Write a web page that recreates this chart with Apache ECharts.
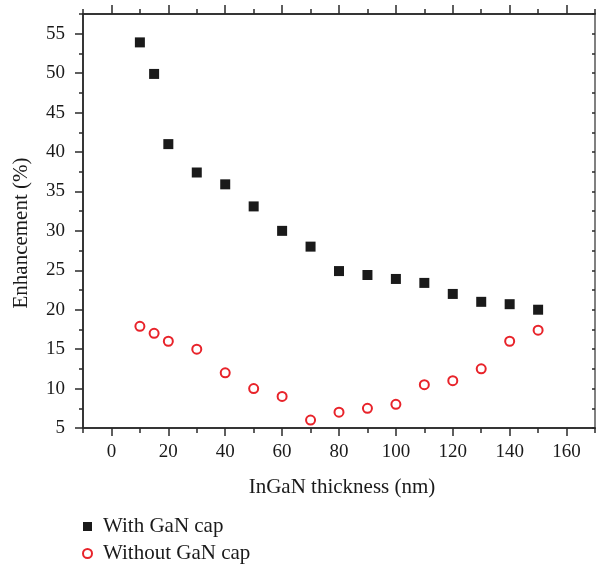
<!DOCTYPE html>
<html><head><meta charset="utf-8">
<script src="https://cdn.jsdelivr.net/npm/echarts@6/dist/echarts.min.js"></script>
<style>html,body{margin:0;padding:0;background:#fff}#c{width:596px;height:565px}</style>
</head><body><div id="c"></div>
<script>
const thickness = [10, 15, 20, 30, 40, 50, 60, 70, 80, 90, 100, 110, 120, 130, 140, 150];
const withCap = [53.9, 49.9, 41.0, 37.4, 35.9, 33.1, 30.0, 28.0, 24.9, 24.4, 23.9, 23.4, 22.0, 21.0, 20.7, 20.0];
const withoutCap = [17.9, 17.0, 16.0, 15.0, 12.0, 10.0, 9.0, 6.0, 7.0, 7.5, 8.0, 10.5, 11.0, 12.5, 16.0, 17.4];
const xMajor = [0, 20, 40, 60, 80, 100, 120, 140, 160];
const xMinor = [-10, 10, 30, 50, 70, 90, 110, 130, 150, 170];
const yMajor = [5, 10, 15, 20, 25, 30, 35, 40, 45, 50, 55];
const yMinor = [7.5, 12.5, 17.5, 22.5, 27.5, 32.5, 37.5, 42.5, 47.5, 52.5, 57.5];
const yAll = yMajor.concat(yMinor);

const FONT = 'Liberation Serif';
const AX = '#2a2a2a';
const RED = '#e8232a';
const chart = echarts.init(document.getElementById('c'), null, {renderer: 'canvas'});
const baseX = (pos, ticks, len, opts) => Object.assign({
  type: 'value', min: -10, max: 170, interval: 10, position: pos,
  gridIndex: 0, splitLine: {show: false},
  axisLine: {show: true, onZero: false, lineStyle: {color: AX, width: 1.5}},
  axisTick: {show: true, customValues: ticks, length: len, inside: false, lineStyle: {color: AX, width: 1.5}},
  axisLabel: {show: false}
}, opts || {});
const baseY = (pos, ticks, len, opts) => Object.assign({
  type: 'value', min: 5, max: 57.5, interval: 5, position: pos,
  gridIndex: 0, splitLine: {show: false},
  axisLine: {show: true, onZero: false, lineStyle: {color: AX, width: 1.5}},
  axisTick: {show: true, customValues: ticks, length: len, inside: false, lineStyle: {color: AX, width: 1.5}},
  axisLabel: {show: false}
}, opts || {});

const data1 = thickness.map((t, i) => [t, withCap[i]]);
const data2 = thickness.map((t, i) => [t, withoutCap[i]]);

chart.setOption({
  animation: false,
  textStyle: {fontFamily: FONT},
  grid: {left: 83, top: 14, right: 1, bottom: 137, containLabel: false},
  xAxis: [
    baseX('bottom', xMajor, 8, {
      name: 'InGaN thickness (nm)', nameLocation: 'middle', nameGap: 49,
      nameTextStyle: {fontFamily: FONT, fontSize: 21, color: '#1a1a1a', padding: [0, 0, 0, 6]},
      axisLabel: {show: true, customValues: xMajor, margin: 15, fontFamily: FONT, fontSize: 19, color: '#1a1a1a'}
    }),
    baseX('bottom', xMinor, 5),
    baseX('top', xMajor, 9),
    baseX('top', xMinor, 5)
  ],
  yAxis: [
    baseY('left', yMajor, 8, {
      name: 'Enhancement (%)', nameLocation: 'middle', nameGap: 51,
      nameTextStyle: {fontFamily: FONT, fontSize: 21, color: '#1a1a1a', padding: [0, 24, 0, 0]},
      axisLabel: {show: true, customValues: yMajor, margin: 18, fontFamily: FONT, fontSize: 19, color: '#1a1a1a'}
    }),
    baseY('left', yMinor, 4),
    baseY('right', yAll, 3, {
      axisLine: {show: true, onZero: false, lineStyle: {color: '#808080', width: 2}},
      axisTick: {show: true, customValues: yAll, length: 3, inside: true, lineStyle: {color: AX, width: 1.5}}
    })
  ],
  legend: {
    orient: 'vertical', left: 82, top: 516, padding: 0, itemGap: 6, itemWidth: 21, itemHeight: 9,
    textStyle: {fontFamily: FONT, fontSize: 21, color: '#1a1a1a'},
    data: [
      {name: 'With GaN cap', icon: 'path://M0,0h10v10h-10z', itemStyle: {color: '#1a1a1a'}},
      {name: 'Without GaN cap', icon: 'emptyCircle', itemStyle: {color: RED, borderColor: RED, borderWidth: 2}}
    ]
  },
  series: [
    {name: 'With GaN cap', type: 'scatter', xAxisIndex: 0, yAxisIndex: 0, data: data1,
     symbol: 'rect', symbolSize: 10, itemStyle: {color: '#1a1a1a', opacity: 1}},
    {name: 'Without GaN cap', type: 'scatter', xAxisIndex: 0, yAxisIndex: 0, data: data2,
     symbol: 'emptyCircle', symbolSize: 9,
     itemStyle: {color: RED, borderColor: RED, borderWidth: 2, opacity: 1}}
  ]
});
</script></body></html>
